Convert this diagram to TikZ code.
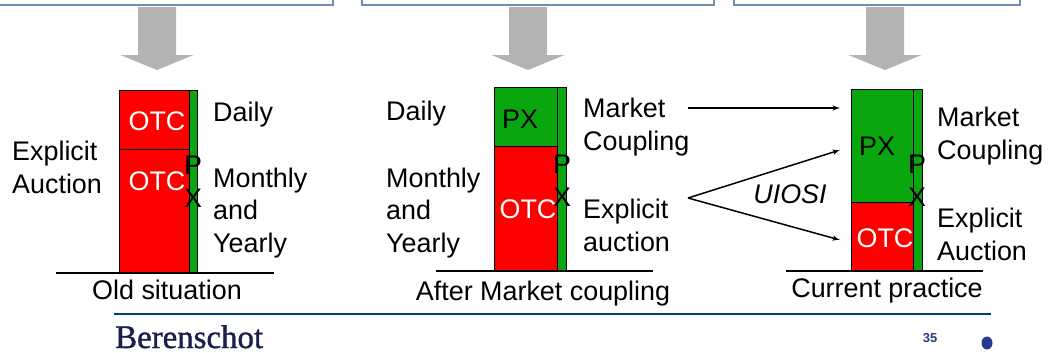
\documentclass[tikz,border=0pt]{standalone}
\usepackage{fontspec}
\setmainfont{Liberation Sans}
\newfontfamily\brandfont[FakeBold=1.2]{Liberation Serif}
\usepackage{tikz}
\usetikzlibrary{arrows,positioning}

\definecolor{pxgreen}{RGB}{10,166,16}
\definecolor{arrowgray}{RGB}{179,179,179}
\definecolor{boxblue}{RGB}{110,142,180}
\definecolor{rulenavy}{RGB}{0,68,110}
\definecolor{brandnavy}{RGB}{27,31,76}
\definecolor{pagenum}{RGB}{40,56,140}

\tikzset{
  txt/.style={font=\fontsize{27}{33}\selectfont, inner sep=0pt, align=left},
  otcblk/.style={draw=black, line width=0.6bp, fill=red, inner sep=0pt, anchor=north west},
  pxblk/.style={draw=black, line width=0.6bp, fill=pxgreen, inner sep=0pt, anchor=north west},
  pxstrip/.style={pxblk, minimum width=8bp},
  blklabel/.style={txt, text=white},
  ground/.style={line width=1.3bp},
  topbox/.style={draw=boxblue, line width=1.2bp, fill=white},
  link/.style={->, line width=1.5bp},
}

\begin{document}
\begin{tikzpicture}[>=latex']
	\useasboundingbox (0bp,0bp) rectangle (1050bp,-353bp);

	% header boxes and the grey arrows under them
	\draw[topbox] (-5bp,20bp)  rectangle (333bp,-5bp);
	\draw[topbox] (362bp,20bp) rectangle (714bp,-5bp);
	\draw[topbox] (734bp,20bp) rectangle (1020bp,-5bp);
	\foreach \x in {157bp,528bp,885bp}
		\fill[arrowgray] (\x,-7bp) ++(-19bp,0) -- ++(38bp,0) -- ++(0,-48bp) -- ++(17.5bp,0)
			-- ++(-36.5bp,-15bp) -- ++(-36.5bp,15bp) -- ++(17.5bp,0) -- cycle;

	% old situation
	\node (otcA1) at (119bp,-90bp)  [otcblk, minimum width=70bp, minimum height=59bp]  {};
	\node (otcA2) at (119bp,-149bp) [otcblk, minimum width=70bp, minimum height=124bp] {};
	\node (pxA)   at (189bp,-90bp)  [pxstrip, minimum height=183bp] {};
	\node (otcA1t) at (157bp,-121bp) [blklabel] {OTC};
	\node (otcA2t) at (157bp,-181bp) [blklabel] {OTC};
	\node (pxAt)   at (193bp,-182bp) [txt, align=center] {P\\X};
	\node (dailyA)   at (213bp,-115bp) [txt, anchor=west] {Daily};
	\node (monthlyA) at (213bp,-213bp) [txt, anchor=west] {Monthly\\and\\Yearly};
	\node (explA)    at (12bp,-167bp)  [txt, anchor=west] {Explicit\\Auction};
	\draw[ground] (56bp,-273bp) -- (274bp,-273bp);
	\node (capA) at (167bp,-290bp) [txt] {Old situation};

	% after market coupling
	\node (pxB)  at (494bp,-87bp)  [pxblk, minimum width=63bp, minimum height=59bp]   {};
	\node (otcB) at (494bp,-146bp) [otcblk, minimum width=63bp, minimum height=124bp] {};
	\node (pxB2) at (557bp,-87bp)  [pxstrip, minimum width=9bp, minimum height=183bp] {};
	\node (pxBt)   at (520bp,-119bp) [txt] {PX};
	\node (otcBt)  at (528bp,-209bp) [blklabel] {OTC};
	\node (pxB2t)  at (562bp,-181bp) [txt, align=center] {P\\X};
	\node (dailyB)   at (386bp,-114bp) [txt, anchor=west] {Daily};
	\node (monthlyB) at (386bp,-213bp) [txt, anchor=west] {Monthly\\and\\Yearly};
	\node (mcB)      at (583bp,-127bp) [txt, anchor=west] {Market\\Coupling};
	\node (explB)    at (583bp,-225bp) [txt, anchor=west] {Explicit\\auction};
	\draw[ground] (436bp,-271bp) -- (653bp,-271bp);
	\node (capB) at (543bp,-294bp) [txt] {After Market coupling};

	% current practice
	\node (pxC)  at (851bp,-89bp)  [pxblk, minimum width=62bp, minimum height=113bp] {};
	\node (otcC) at (851bp,-202bp) [otcblk, minimum width=62bp, minimum height=69bp] {};
	\node (pxC2) at (913bp,-89bp)  [pxstrip, minimum width=9bp, minimum height=182bp] {};
	\node (pxCt)   at (877bp,-146bp) [txt] {PX};
	\node (otcCt)  at (885bp,-238bp) [blklabel] {OTC};
	\node (pxC2t)  at (917bp,-181bp) [txt, align=center] {P\\X};
	\node (mcC)    at (937bp,-136bp) [txt, anchor=west] {Market\\Coupling};
	\node (explC)  at (937bp,-234bp) [txt, anchor=west] {Explicit\\Auction};
	\draw[ground] (786bp,-271bp) -- (983bp,-271bp);
	\node (capC) at (887bp,-291bp) [txt] {Current practice};

	% transitions
	\coordinate (mcstart) at (688bp,-108bp);
	\coordinate (mcend)   at (840bp,-108bp);
	\coordinate (fork)    at (688bp,-198bp);
	\coordinate (toPX)    at (840bp,-150bp);
	\coordinate (toOTC)   at (840bp,-240bp);
	\draw[link] (mcstart) -- (mcend);
	\draw[link] (fork) -- (toPX);
	\draw[link] (fork) -- (toOTC);
	\node (uiosi) at (790bp,-194bp) [txt, font=\fontsize{27}{33}\selectfont\itshape] {UIOSI};

	% footer
	\draw[rulenavy, line width=2bp] (114bp,-314bp) -- (991bp,-314bp);
	\node (brand) at (115bp,-348bp) [anchor=base west, inner sep=0pt, text=brandnavy,
		font=\brandfont\fontsize{33}{33}\selectfont] {Berenschot};
	\node (pageno) at (930bp,-338bp) [inner sep=0pt, text=pagenum,
		font=\fontsize{13}{13}\selectfont\bfseries] {35};
	\fill[pagenum] (987bp,-343bp) ellipse [x radius=5.5bp, y radius=6.5bp];
\end{tikzpicture}
\end{document}
